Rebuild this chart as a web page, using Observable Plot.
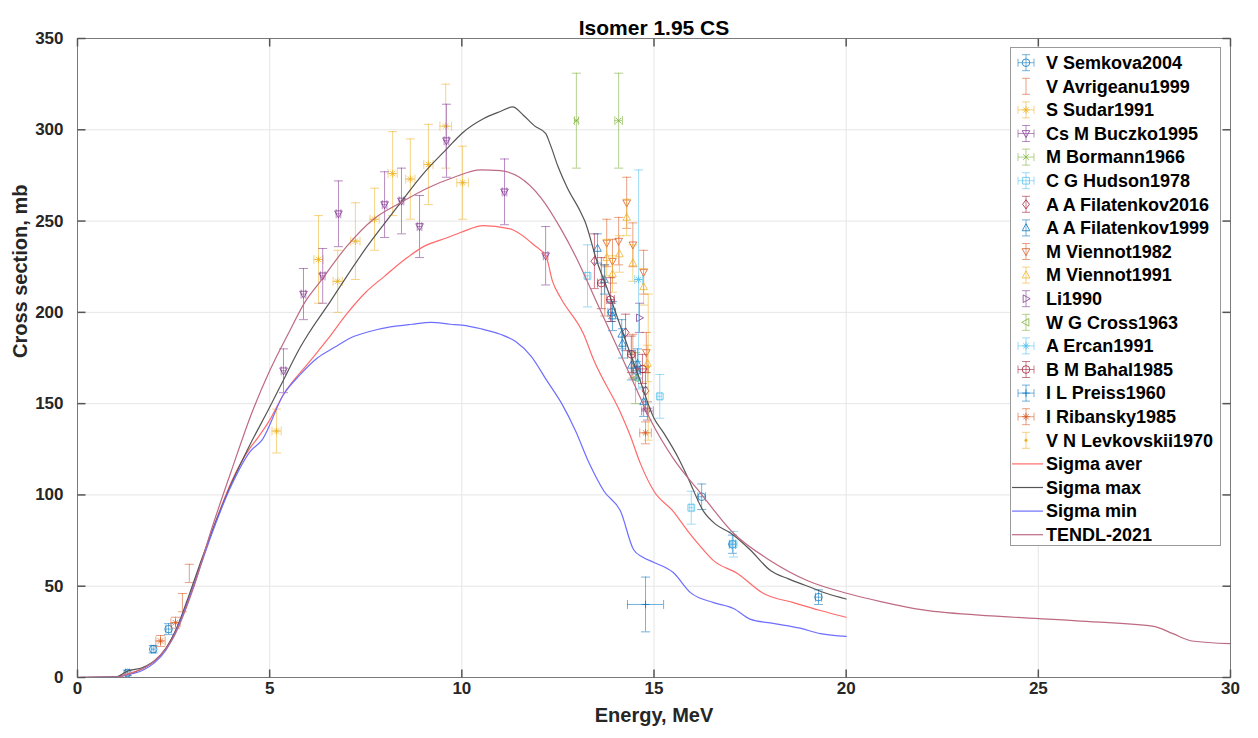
<!DOCTYPE html>
<html>
<head>
<meta charset="utf-8">
<script src="https://cdn.jsdelivr.net/npm/d3@7"></script>
<script src="https://cdn.jsdelivr.net/npm/@observablehq/plot@0.6"></script>
<style>
  html, body { margin: 0; padding: 0; background: #fff; }
  svg { display: block; }
</style>
</head>
<body>
<div id="chart"></div>
<script>
// ---------- tick labels ----------
const xTicks = [0, 5, 10, 15, 20, 25, 30];
const yTicks = [0, 50, 100, 150, 200, 250, 300, 350];
const titleText = "Isomer 1.95 CS";
const xLabel = "Energy, MeV";
const yLabel = "Cross section, mb";

// ---------- experimental data: [E (MeV), sigma (mb), dSigma, dE] ----------
const semkova2004 = [[1.3, 2.5, 1.5, 0.05], [1.97, 15.5, 2, 0.05], [2.37, 26.5, 3, 0.07], [13.9, 200, 5, 0.1], [14.55, 168, 5, 0.1], [16.24, 99, 7, 0.1], [17.04, 73, 5, 0.08], [19.28, 44, 4, 0.08]];
const avrigeanu1999 = [[2.73, 41, 5], [2.91, 57, 5], [13.72, 212, 14], [14.45, 176, 12]];
const sudar1991 = [[5.18, 135, 12, 0.12], [6.27, 229, 24, 0.12], [6.77, 217, 17, 0.12], [7.23, 239, 21, 0.12], [7.73, 251, 17, 0.12], [8.2, 276, 23, 0.12], [8.66, 273, 22, 0.12], [9.13, 281, 22, 0.12], [9.58, 302, 23, 0.15], [10.02, 271, 20, 0.15]];
const buczko1995 = [[5.36, 168, 12, 0.06], [5.88, 210, 14, 0.06], [6.38, 220, 15, 0.06], [6.79, 254, 18, 0.06], [7.99, 259, 18, 0.06], [8.43, 261, 18, 0.06], [8.9, 247, 17, 0.06], [9.6, 294, 20, 0.06], [11.11, 266, 18, 0.06], [12.18, 231, 16, 0.06], [14.83, 146, 5, 0.15]];
const bormann1966 = [[12.98, 305, 26, 0.05], [14.08, 305, 26, 0.1]];
const hudson1978 = [[13.27, 220, 17, 0.05], [15.15, 154, 12, 0.05], [15.97, 93, 9, 0.05], [17.07, 73, 7, 0.05]];
const filatenkov2016 = [[13.45, 228, 15], [14.26, 189, 10], [14.78, 157, 10]];
const filatenkov1999 = [[13.53, 235, 8], [13.71, 218, 8], [13.92, 198, 8], [14.16, 188, 8], [14.18, 183, 8], [14.41, 171, 8], [14.57, 172, 8], [14.73, 151, 8]];
const viennot1982 = [[13.77, 238, 13], [13.92, 228, 12], [14.08, 239, 13], [14.29, 260, 14], [14.45, 237, 12], [14.73, 222, 12], [14.8, 178, 11]];
const viennot1991 = [[13.77, 230, 10], [13.92, 221, 10], [14.1, 232, 10], [14.29, 252, 10], [14.45, 227, 10], [14.73, 214, 10], [14.83, 172, 10]];
const li1990 = [[14.62, 197, 8]];
const cross1963 = [[14.52, 164, 14]];
const ercan1991 = [[14.6, 218, 60, 0.1]];
const bahal1985 = [[13.63, 216, 14, 0.1], [13.87, 207, 12, 0.1], [14.41, 177, 10, 0.1], [14.7, 169, 8, 0.15]];
const preiss1960 = [[14.78, 40, 15, 0.47]];
const ribansky1985 = [[2.16, 20, 3, 0.12], [2.55, 30, 3, 0.12], [14.78, 134, 6, 0.15]];
const levkovskii1970 = [[14.85, 170, 40]];

// ---------- evaluated curves: [E, sigma] ----------
const sigmaAver = [[0,0],[1.0,0.3],[1.3,2],[1.7,5],[2.0,9],[2.3,16],[2.6,28],[2.9,44],[3.2,62],[3.5,80],[4.0,107],[4.5,126],[4.68,131],[5.0,141],[5.36,155],[6.0,172],[6.5,185],[7.0,199],[7.5,211],[8.0,220],[8.58,230],[9.0,236],[9.63,241],[10.0,244],[10.56,247.5],[11.19,246],[11.35,245],[11.87,237],[12.2,230],[12.36,217],[12.57,208],[13.17,188],[13.43,174],[14.13,145],[14.39,132],[14.65,117],[15.0,102],[15.5,91],[15.87,80.5],[16.2,72],[16.55,64],[17.17,57],[17.85,46],[18.63,41],[19.33,36.7],[20.0,33]];
const sigmaMax = [[0,0],[1.0,0.3],[1.3,3.5],[1.7,5.5],[2.0,9],[2.3,16],[2.6,28],[2.9,45],[3.2,63],[3.5,80],[4.0,106],[4.5,128],[5.0,148],[5.36,163],[5.8,181],[6.0,188],[6.58,206],[6.92,217],[7.5,235],[8.0,249],[8.4,260],[9.0,276],[9.63,290],[10.0,298],[10.56,306],[11.0,310],[11.32,312.5],[11.6,308],[11.9,302],[12.18,298],[12.3,292],[12.5,280],[12.75,268],[13.09,255],[13.2,250],[13.53,227],[13.8,212],[14.2,188],[14.6,165],[15.0,142],[15.25,134],[15.64,120],[15.87,110],[16.29,91],[16.6,84],[17.0,79],[17.5,70],[18.03,58.6],[18.5,54],[19.0,50],[19.5,46],[20.0,43]];
const sigmaMin = [[0,0],[1.0,0.2],[1.3,1.5],[1.7,4],[2.0,8],[2.3,15],[2.6,27],[2.9,43],[3.2,61],[3.5,79],[4.0,105],[4.5,124],[4.8,130],[5.36,155],[5.8,166],[6.24,175],[6.7,181],[7.1,186],[7.6,189.5],[8.14,192],[8.7,193.5],[9.2,194.5],[9.7,193.5],[10.0,193],[10.5,191],[11.0,188],[11.4,184],[11.8,176],[12.2,163],[12.6,150],[12.96,135],[13.3,118],[13.7,102],[14.13,91],[14.47,70],[14.7,66],[15.0,63],[15.5,57.5],[15.95,46.5],[16.55,41],[17.07,37.8],[17.5,32],[18.1,29.6],[18.8,27],[19.33,24],[20.0,22.5]];
const tendl2021 = [[0,0],[1.0,0.3],[1.5,3],[2.0,9],[2.5,22],[3.0,48],[3.5,82],[4.0,113],[4.5,143],[5.0,168],[5.5,189],[5.93,206],[6.32,217],[7.0,236],[7.7,251],[8.4,260],[9.1,268],[9.8,274],[10.49,278],[11.0,277.6],[11.5,274],[12.05,263],[12.57,246],[13.0,229],[13.5,206],[14.0,183],[14.5,160],[14.91,141],[15.5,120],[16.21,101],[17.07,79],[18.03,64],[19.0,53],[20.04,46],[20.9,41.6],[22,37],[24,33.5],[26,31],[28,28],[28.5,24],[29,20],[30,18.5]];

// ---------- symbols ----------
function sym(fn) { return { draw(c, size) { fn(c, Math.sqrt(size / Math.PI)); } }; }
const S = {
  circle: d3.symbolCircle,
  square: d3.symbolSquare,
  diamond: sym((c, r) => { c.moveTo(0, -r * 1.2); c.lineTo(r * 0.9, 0); c.lineTo(0, r * 1.2); c.lineTo(-r * 0.9, 0); c.closePath(); }),
  triUp: sym((c, r) => { c.moveTo(0, -r * 1.1); c.lineTo(r, r * 0.75); c.lineTo(-r, r * 0.75); c.closePath(); }),
  triDown: sym((c, r) => { c.moveTo(0, r * 1.1); c.lineTo(r, -r * 0.75); c.lineTo(-r, -r * 0.75); c.closePath(); }),
  triRight: sym((c, r) => { c.moveTo(r * 1.1, 0); c.lineTo(-r * 0.75, r); c.lineTo(-r * 0.75, -r); c.closePath(); }),
  triLeft: sym((c, r) => { c.moveTo(-r * 1.1, 0); c.lineTo(r * 0.75, r); c.lineTo(r * 0.75, -r); c.closePath(); }),
  plus: sym((c, r) => { c.moveTo(-r, 0); c.lineTo(r, 0); c.moveTo(0, -r); c.lineTo(0, r); }),
  times: sym((c, r) => { const k = r * 0.75; c.moveTo(-k, -k); c.lineTo(k, k); c.moveTo(-k, k); c.lineTo(k, -k); }),
  star: sym((c, r) => { const k = r * 0.7; c.moveTo(-r, 0); c.lineTo(r, 0); c.moveTo(0, -r); c.lineTo(0, r); c.moveTo(-k, -k); c.lineTo(k, k); c.moveTo(-k, k); c.lineTo(k, -k); }),
  point: sym((c, r) => { c.moveTo(1.2, 0); c.arc(0, 0, 1.2, 0, 2 * Math.PI); }),
  none: sym(() => {}),
  hcap: sym((c, r) => { c.moveTo(-r, 0); c.lineTo(r, 0); }),
  vcap: sym((c, r) => { c.moveTo(0, -r); c.lineTo(0, r); })
};

const C = { blue: "#0072BD", orange: "#D95319", yellow: "#EDB120", purple: "#7E2F8E", green: "#77AC30", lblue: "#4DBEEE", dred: "#A2142F" };

const series = [
  { name: "V Semkova2004", data: semkova2004, color: C.blue, symbol: S.circle, hasX: true },
  { name: "V Avrigeanu1999", data: avrigeanu1999, color: C.orange, symbol: S.none, hasX: false },
  { name: "S Sudar1991", data: sudar1991, color: C.yellow, symbol: S.star, hasX: true },
  { name: "Cs M Buczko1995", data: buczko1995, color: C.purple, symbol: S.triDown, hasX: true },
  { name: "M Bormann1966", data: bormann1966, color: C.green, symbol: S.times, hasX: true },
  { name: "C G Hudson1978", data: hudson1978, color: C.lblue, symbol: S.square, hasX: true },
  { name: "A A Filatenkov2016", data: filatenkov2016, color: C.dred, symbol: S.diamond, hasX: false },
  { name: "A A Filatenkov1999", data: filatenkov1999, color: C.blue, symbol: S.triUp, hasX: false },
  { name: "M Viennot1982", data: viennot1982, color: C.orange, symbol: S.triDown, hasX: false },
  { name: "M Viennot1991", data: viennot1991, color: C.yellow, symbol: S.triUp, hasX: false },
  { name: "Li1990", data: li1990, color: C.purple, symbol: S.triRight, hasX: false },
  { name: "W G Cross1963", data: cross1963, color: C.green, symbol: S.triLeft, hasX: false },
  { name: "A Ercan1991", data: ercan1991, color: C.lblue, symbol: S.star, hasX: true },
  { name: "B M Bahal1985", data: bahal1985, color: C.dred, symbol: S.circle, hasX: true },
  { name: "I L Preiss1960", data: preiss1960, color: C.blue, symbol: S.plus, hasX: true },
  { name: "I Ribansky1985", data: ribansky1985, color: C.orange, symbol: S.star, hasX: true },
  { name: "V N Levkovskii1970", data: levkovskii1970, color: C.yellow, symbol: S.point, hasX: false }
];

const curves = [
  { name: "Sigma aver", data: sigmaAver, color: "#ff6a6a" },
  { name: "Sigma max", data: sigmaMax, color: "#555555" },
  { name: "Sigma min", data: sigmaMin, color: "#6e6eff" },
  { name: "TENDL-2021", data: tendl2021, color: "#bd6a82" }
];

const FONT = "'Liberation Sans', Arial, Helvetica, sans-serif";
const EB_OP = 0.55, MK_OP = 0.75, CAP = 4.5;

const marks = [
  Plot.ruleX(xTicks, { x: d => d, stroke: "#e6e6e6", strokeWidth: 1 }),
  Plot.ruleY(yTicks, { y: d => d, stroke: "#e6e6e6", strokeWidth: 1 })
];

for (const s of series) {
  const d = s.data;
  const common = { stroke: s.color, strokeOpacity: EB_OP, strokeWidth: 1 };
  marks.push(Plot.ruleX(d, { x: p => p[0], y1: p => p[1] - p[2], y2: p => p[1] + p[2], ...common }));
  marks.push(Plot.dot(d, { x: p => p[0], y: p => p[1] + p[2], symbol: S.hcap, r: CAP, ...common }));
  marks.push(Plot.dot(d, { x: p => p[0], y: p => p[1] - p[2], symbol: S.hcap, r: CAP, ...common }));
  if (s.hasX) {
    const dx = d.filter(p => p[3] > 0);
    marks.push(Plot.ruleY(dx, { y: p => p[1], x1: p => p[0] - p[3], x2: p => p[0] + p[3], ...common }));
    marks.push(Plot.dot(dx, { x: p => p[0] - p[3], y: p => p[1], symbol: S.vcap, r: CAP, ...common }));
    marks.push(Plot.dot(dx, { x: p => p[0] + p[3], y: p => p[1], symbol: S.vcap, r: CAP, ...common }));
  }
  marks.push(Plot.dot(d, { x: p => p[0], y: p => p[1], symbol: s.symbol, r: 3.8, stroke: s.color, strokeOpacity: MK_OP, fill: s.symbol === S.point ? s.color : "none", strokeWidth: 1 }));
}

for (const c of curves) {
  marks.push(Plot.line(c.data, { x: p => p[0], y: p => p[1], stroke: c.color, strokeWidth: 1.2, curve: "monotone-x" }));
}

// frame & inward ticks
marks.push(Plot.frame({ stroke: "#7a7a7a", strokeWidth: 1 }));
marks.push(Plot.dot(xTicks, { x: d => d, y: () => 0, symbol: S.vcap, r: 4, dy: -4, stroke: "#555" }));
marks.push(Plot.dot(xTicks, { x: d => d, y: () => 350, symbol: S.vcap, r: 4, dy: 4, stroke: "#555" }));
marks.push(Plot.dot(yTicks, { y: d => d, x: () => 0, symbol: S.hcap, r: 4, dx: 4, stroke: "#555" }));
marks.push(Plot.dot(yTicks, { y: d => d, x: () => 30, symbol: S.hcap, r: 4, dx: -4, stroke: "#555" }));

// tick labels, axis labels, title
marks.push(Plot.text(xTicks, { x: d => d, frameAnchor: "bottom", dy: 16, text: d => String(d), fontSize: 17, fontWeight: "bold", fill: "#262626" }));
marks.push(Plot.text(yTicks, { y: d => d, frameAnchor: "left", dx: -14, textAnchor: "end", text: d => String(d), fontSize: 17, fontWeight: "bold", fill: "#262626" }));
marks.push(Plot.text([xLabel], { frameAnchor: "bottom", dy: 44, text: d => d, fontSize: 20, fontWeight: "bold", fill: "#262626" }));
marks.push(Plot.text([yLabel], { frameAnchor: "left", dx: -57, rotate: -90, text: d => d, fontSize: 20, fontWeight: "bold", fill: "#262626" }));
marks.push(Plot.text([titleText], { frameAnchor: "top", dy: -18, text: d => d, fontSize: 21, fontWeight: "bold", fill: "#000" }));

const svg = Plot.plot({
  width: 1258,
  height: 738,
  marginLeft: 77,
  marginRight: 28,
  marginTop: 38,
  marginBottom: 61,
  x: { domain: [0, 30], axis: null },
  y: { domain: [0, 350], axis: null },
  style: { fontFamily: FONT, background: "#fff", overflow: "visible" },
  marks
});

// ---------- legend ----------
const lg = d3.select(svg).append("g").attr("font-family", FONT).attr("text-anchor", "start");
lg.append("rect").attr("x", 1010.5).attr("y", 47.5).attr("width", 210).attr("height", 498)
  .attr("fill", "#fff").attr("stroke", "#9a9a9a").attr("stroke-width", 1);
const y0 = 62.7, step = 23.6, sx = 1026, tx = 1046;
const entries = [...series.map(s => ({ ...s, kind: "data" })), ...curves.map(c => ({ ...c, kind: "line" }))];
entries.forEach((e, i) => {
  const y = y0 + i * step;
  if (e.kind === "data") {
    const g = lg.append("g").attr("stroke", e.color).attr("stroke-opacity", EB_OP).attr("fill", "none");
    g.append("line").attr("x1", sx).attr("x2", sx).attr("y1", y - 8).attr("y2", y + 8);
    g.append("line").attr("x1", sx - 4).attr("x2", sx + 4).attr("y1", y - 8).attr("y2", y - 8);
    g.append("line").attr("x1", sx - 4).attr("x2", sx + 4).attr("y1", y + 8).attr("y2", y + 8);
    if (e.hasX) {
      g.append("line").attr("x1", sx - 8).attr("x2", sx + 8).attr("y1", y).attr("y2", y);
      g.append("line").attr("x1", sx - 8).attr("x2", sx - 8).attr("y1", y - 4).attr("y2", y + 4);
      g.append("line").attr("x1", sx + 8).attr("x2", sx + 8).attr("y1", y - 4).attr("y2", y + 4);
    }
    lg.append("path").attr("d", d3.symbol(e.symbol, 3.8 * 3.8 * Math.PI)())
      .attr("transform", `translate(${sx},${y})`)
      .attr("stroke", e.color).attr("stroke-opacity", MK_OP)
      .attr("fill", e.symbol === S.point ? e.color : "none");
  } else {
    lg.append("line").attr("x1", 1012).attr("x2", 1043).attr("y1", y).attr("y2", y)
      .attr("stroke", e.color).attr("stroke-width", 1.2);
  }
  lg.append("text").attr("x", tx).attr("y", y).attr("dy", "0.35em").attr("text-anchor", "start")
    .attr("font-size", 18).attr("font-weight", "bold").attr("fill", "#000").text(e.name);
});

document.getElementById("chart").appendChild(svg);
</script>
</body>
</html>
